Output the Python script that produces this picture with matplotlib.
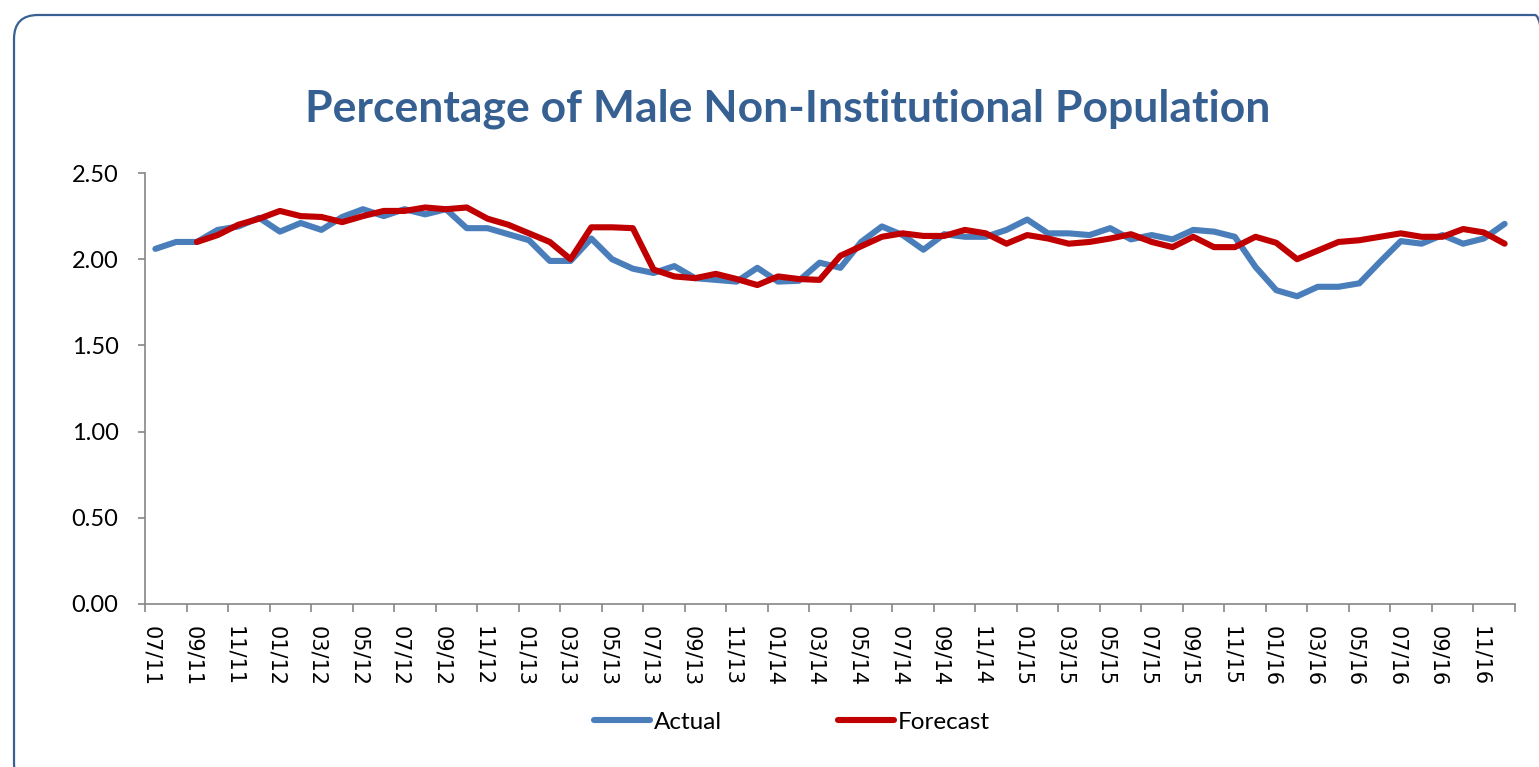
import numpy as np
import pandas as pd
import matplotlib
matplotlib.use('Agg')
import matplotlib.pyplot as plt
from matplotlib.patches import FancyBboxPatch
from matplotlib.transforms import IdentityTransform, ScaledTranslation

# monthly labels 07/11 .. 12/16
months = pd.date_range('2011-07-01', '2016-12-01', freq='MS').strftime('%m/%y').tolist()

actual = [2.06, 2.10, 2.10, 2.17, 2.19, 2.24, 2.16, 2.21, 2.17, 2.245,
          2.29, 2.25, 2.29, 2.26, 2.29, 2.18, 2.18, 2.145, 2.11, 1.99,
          1.99, 2.12, 2.00, 1.945, 1.92, 1.96, 1.89, 1.88, 1.87, 1.95,
          1.87, 1.875, 1.98, 1.95, 2.10, 2.19, 2.14, 2.055, 2.145, 2.13,
          2.13, 2.17, 2.23, 2.15, 2.15, 2.14, 2.18, 2.115, 2.14, 2.115,
          2.17, 2.16, 2.13, 1.955, 1.82, 1.785, 1.84, 1.84, 1.86, 1.985,
          2.105, 2.09, 2.14, 2.09, 2.12, 2.205]

forecast = [None, None, 2.10, 2.14, 2.20, 2.235, 2.28, 2.25, 2.245, 2.215,
            2.25, 2.28, 2.28, 2.30, 2.29, 2.30, 2.235, 2.20, 2.15, 2.10,
            2.00, 2.185, 2.185, 2.18, 1.94, 1.90, 1.89, 1.915, 1.885, 1.85,
            1.90, 1.885, 1.88, 2.02, 2.075, 2.13, 2.15, 2.135, 2.135, 2.17,
            2.15, 2.09, 2.14, 2.12, 2.09, 2.10, 2.12, 2.145, 2.10, 2.07,
            2.13, 2.07, 2.07, 2.13, 2.095, 2.00, 2.05, 2.10, 2.11, 2.13,
            2.15, 2.13, 2.13, 2.175, 2.155, 2.09]

yticks = [0.0, 0.5, 1.0, 1.5, 2.0, 2.5]

W, H = 1539, 767
fig = plt.figure(figsize=(W / 100, H / 100), dpi=100)
fig.patch.set_facecolor('white')

# rounded chart border (pixel coords)
border = FancyBboxPatch((14, -20), 1545, H - 15 + 20,
                        boxstyle='round,pad=0,rounding_size=24',
                        transform=IdentityTransform(), fill=False,
                        edgecolor='#3A6093', linewidth=1.6)
fig.add_artist(border)

ax = fig.add_axes([145 / W, 1 - 604 / H, (1515 - 145) / W, (604 - 173) / H])

x = np.arange(len(months))
fc = np.array([np.nan if v is None else v for v in forecast], dtype=float)
ax.plot(x, actual, color='#4A7EBB', lw=4.4, solid_capstyle='round',
        solid_joinstyle='round', label='Actual')
ax.plot(x, fc, color='#C00000', lw=4.4, solid_capstyle='round',
        solid_joinstyle='round', label='Forecast')

ax.set_xlim(-0.5, len(months) - 0.5)
ax.set_ylim(0, 2.5)

for s in ['top', 'right']:
    ax.spines[s].set_visible(False)
for s in ['left', 'bottom']:
    ax.spines[s].set_color('#868686')
    ax.spines[s].set_linewidth(1.2)

ax.set_yticks(yticks)
ax.set_yticklabels(['%.2f' % v for v in yticks], fontfamily='Lato', fontsize=17)
ax.tick_params(axis='y', length=5, color='#868686', width=1.2, pad=14)

# ticks on category boundaries, labels on category centres
ax.set_xticks(np.arange(-0.5, len(months), 2))
ax.set_xticklabels([])
ax.tick_params(axis='x', which='major', length=6, color='#868686', width=1.2)
ax.set_xticks(x[::2], minor=True)
ax.set_xticklabels(months[::2], minor=True, rotation=270, fontsize=15,
                   fontfamily='DejaVu Sans', va='top', ha='center')
ax.tick_params(axis='x', which='minor', length=0, pad=16)
shift = ScaledTranslation(-4 / 100, 0, fig.dpi_scale_trans)
for lbl in ax.get_xticklabels(minor=True):
    lbl.set_transform(lbl.get_transform() + shift)

fig.text(788 / W, 1 - 109 / H, 'Percentage of Male Non-Institutional Population',
         ha='center', va='center', fontsize=32, fontweight='bold',
         fontfamily='Lato', color='#376092')

leg = fig.legend(loc='center', bbox_to_anchor=(792 / W, 1 - 722 / H), ncol=2,
                 frameon=False, prop={'family': 'Lato', 'size': 17.5},
                 handlelength=2.3, handletextpad=0.15, columnspacing=4.8)

fig.savefig('out.png', dpi=100)
